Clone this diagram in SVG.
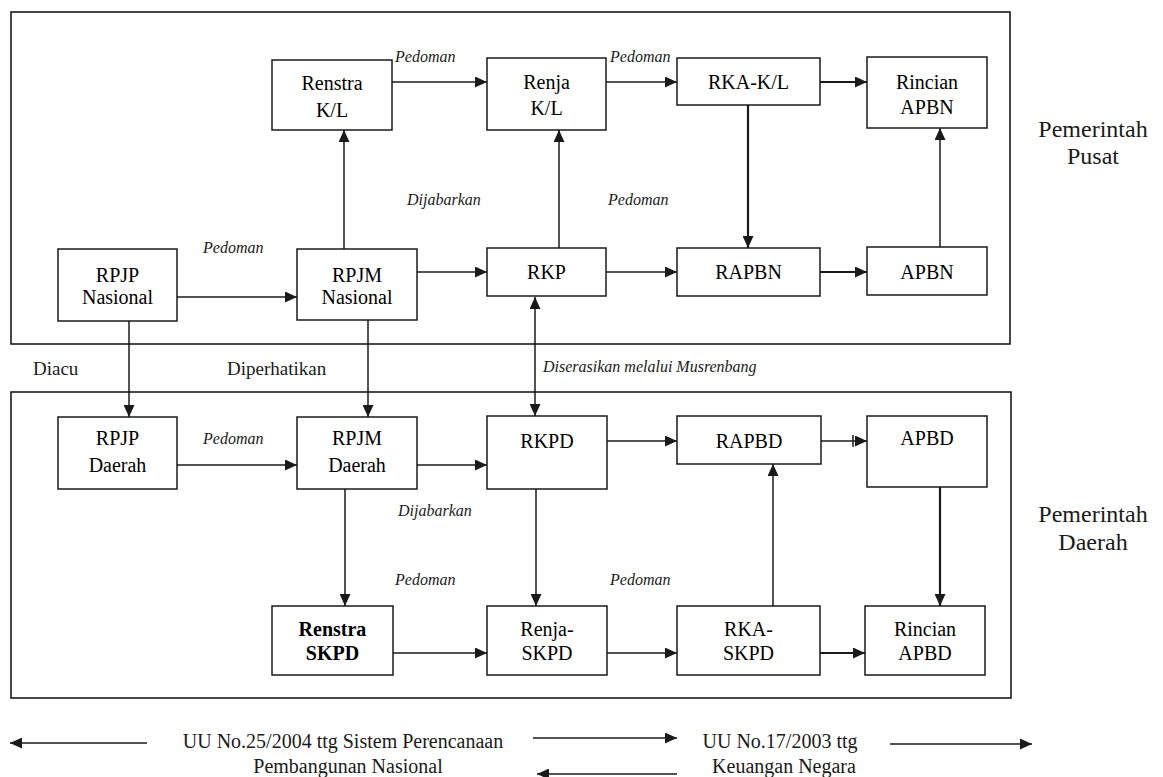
<svg xmlns="http://www.w3.org/2000/svg" width="1163" height="777" viewBox="0 0 1163 777">
  <defs>
    <marker id="head" markerUnits="userSpaceOnUse" markerWidth="12" markerHeight="11" refX="12" refY="5.5" orient="auto-start-reverse">
      <path d="M0,0 L12,5.5 L0,11 z" fill="#1a1a1a"/>
    </marker>
  </defs>
  <rect width="1163" height="777" fill="#ffffff"/>

  <!-- tier frames -->
  <g id="frame-pusat">
    <rect x="11" y="12" width="999" height="332" fill="none" stroke="#1a1a1a" stroke-width="1.6"/>
    <text x="1093" y="137" font-family="Liberation Serif" font-size="24" text-anchor="middle" fill="#1a1a1a">Pemerintah</text>
    <text x="1093" y="164" font-family="Liberation Serif" font-size="24" text-anchor="middle" fill="#1a1a1a">Pusat</text>
  </g>
  <g id="frame-daerah">
    <rect x="11" y="392" width="1000" height="306" fill="none" stroke="#1a1a1a" stroke-width="1.6"/>
    <text x="1093" y="522" font-family="Liberation Serif" font-size="24" text-anchor="middle" fill="#1a1a1a">Pemerintah</text>
    <text x="1093" y="550" font-family="Liberation Serif" font-size="24" text-anchor="middle" fill="#1a1a1a">Daerah</text>
  </g>

  <!-- connectors: every line ends in a filled arrowhead -->
  <g id="connectors" fill="none" stroke="#1a1a1a" stroke-width="1.5" marker-end="url(#head)">
    <line x1="177" y1="297" x2="297" y2="297"/>
    <line x1="344" y1="249" x2="344" y2="130"/>
    <line x1="417" y1="272" x2="487" y2="272"/>
    <line x1="392" y1="82" x2="487" y2="82"/>
    <line x1="606" y1="82" x2="677" y2="82"/>
    <line x1="820" y1="82" x2="867" y2="82" stroke-width="2.2"/>
    <line x1="559" y1="248" x2="559" y2="130"/>
    <line x1="748" y1="105" x2="748" y2="248" stroke-width="2.2"/>
    <line x1="606" y1="272" x2="677" y2="272"/>
    <line x1="820" y1="272" x2="867" y2="272" stroke-width="2.2"/>
    <line x1="940" y1="247" x2="940" y2="128"/>

    <line x1="129" y1="321" x2="129" y2="417"/>
    <line x1="368" y1="320" x2="368" y2="417"/>
    <line x1="535" y1="297" x2="535" y2="416" marker-start="url(#head)"/>

    <line x1="177" y1="465" x2="297" y2="465"/>
    <line x1="417" y1="465" x2="487" y2="465"/>
    <line x1="607" y1="441" x2="677" y2="441"/>
    <line x1="821" y1="441" x2="867" y2="441"/>
    <line x1="853" y1="435" x2="853" y2="447" marker-end="none"/>
    <line x1="345" y1="489" x2="345" y2="606"/>
    <line x1="536" y1="489" x2="536" y2="606"/>
    <line x1="393" y1="653" x2="487" y2="653"/>
    <line x1="607" y1="653" x2="677" y2="653"/>
    <line x1="773" y1="606" x2="773" y2="464"/>
    <line x1="820" y1="653" x2="865" y2="653" stroke-width="2.2"/>
    <line x1="940" y1="487" x2="940" y2="606" stroke-width="2.2"/>

    <!-- legal basis arrows -->
    <line x1="147" y1="743" x2="10" y2="743"/>
    <line x1="533" y1="738" x2="677" y2="738"/>
    <line x1="677" y1="774" x2="537" y2="774"/>
    <line x1="890" y1="744" x2="1032" y2="744"/>
  </g>

  <!-- relation labels -->
  <g id="labels" fill="#1a1a1a">
    <text x="203" y="253" font-family="Liberation Serif" font-size="16" font-style="italic">Pedoman</text>
    <text x="395" y="62" font-family="Liberation Serif" font-size="16" font-style="italic">Pedoman</text>
    <text x="610" y="62" font-family="Liberation Serif" font-size="16" font-style="italic">Pedoman</text>
    <text x="407" y="205" font-family="Liberation Serif" font-size="16" font-style="italic">Dijabarkan</text>
    <text x="608" y="205" font-family="Liberation Serif" font-size="16" font-style="italic">Pedoman</text>
    <text x="543" y="372" font-family="Liberation Serif" font-size="16" font-style="italic">Diserasikan melalui Musrenbang</text>
    <text x="203" y="444" font-family="Liberation Serif" font-size="16" font-style="italic">Pedoman</text>
    <text x="398" y="516" font-family="Liberation Serif" font-size="16" font-style="italic">Dijabarkan</text>
    <text x="395" y="585" font-family="Liberation Serif" font-size="16" font-style="italic">Pedoman</text>
    <text x="610" y="585" font-family="Liberation Serif" font-size="16" font-style="italic">Pedoman</text>
    <text x="33" y="375" font-family="Liberation Serif" font-size="19">Diacu</text>
    <text x="227" y="375" font-family="Liberation Serif" font-size="19">Diperhatikan</text>
    <text x="343" y="748" font-family="Liberation Serif" font-size="20" text-anchor="middle">UU No.25/2004 ttg Sistem Perencanaan</text>
    <text x="348" y="773" font-family="Liberation Serif" font-size="20" text-anchor="middle">Pembangunan Nasional</text>
    <text x="780" y="748" font-family="Liberation Serif" font-size="20" text-anchor="middle">UU No.17/2003 ttg</text>
    <text x="784" y="773" font-family="Liberation Serif" font-size="20" text-anchor="middle">Keuangan Negara</text>
  </g>

  <!-- central government nodes -->
  <g id="renstra-kl">
    <rect x="272" y="60" width="120" height="70" fill="#ffffff" stroke="#1a1a1a" stroke-width="1.5"/>
    <text x="332" y="90" font-family="Liberation Serif" font-size="20" text-anchor="middle">Renstra</text>
    <text x="332" y="117" font-family="Liberation Serif" font-size="20" text-anchor="middle">K/L</text>
  </g>
  <g id="renja-kl">
    <rect x="487" y="58" width="119" height="72" fill="#ffffff" stroke="#1a1a1a" stroke-width="1.5"/>
    <text x="546.5" y="89" font-family="Liberation Serif" font-size="20" text-anchor="middle">Renja</text>
    <text x="546.5" y="115" font-family="Liberation Serif" font-size="20" text-anchor="middle">K/L</text>
  </g>
  <g id="rka-kl">
    <rect x="677" y="58" width="143" height="47" fill="#ffffff" stroke="#1a1a1a" stroke-width="1.5"/>
    <text x="748.5" y="89" font-family="Liberation Serif" font-size="20" text-anchor="middle">RKA-K/L</text>
  </g>
  <g id="rincian-apbn">
    <rect x="867" y="57" width="120" height="71" fill="#ffffff" stroke="#1a1a1a" stroke-width="1.5"/>
    <text x="927" y="89" font-family="Liberation Serif" font-size="20" text-anchor="middle">Rincian</text>
    <text x="927" y="114" font-family="Liberation Serif" font-size="20" text-anchor="middle">APBN</text>
  </g>
  <g id="rpjp-nasional">
    <rect x="58" y="249" width="119" height="72" fill="#ffffff" stroke="#1a1a1a" stroke-width="1.5"/>
    <text x="117.5" y="282" font-family="Liberation Serif" font-size="20" text-anchor="middle">RPJP</text>
    <text x="117.5" y="304" font-family="Liberation Serif" font-size="20" text-anchor="middle">Nasional</text>
  </g>
  <g id="rpjm-nasional">
    <rect x="297" y="249" width="120" height="71" fill="#ffffff" stroke="#1a1a1a" stroke-width="1.5"/>
    <text x="357" y="282" font-family="Liberation Serif" font-size="20" text-anchor="middle">RPJM</text>
    <text x="357" y="304" font-family="Liberation Serif" font-size="20" text-anchor="middle">Nasional</text>
  </g>
  <g id="rkp">
    <rect x="487" y="248" width="119" height="48" fill="#ffffff" stroke="#1a1a1a" stroke-width="1.5"/>
    <text x="546.5" y="279" font-family="Liberation Serif" font-size="20" text-anchor="middle">RKP</text>
  </g>
  <g id="rapbn">
    <rect x="677" y="248" width="143" height="48" fill="#ffffff" stroke="#1a1a1a" stroke-width="1.5"/>
    <text x="748.5" y="279" font-family="Liberation Serif" font-size="20" text-anchor="middle">RAPBN</text>
  </g>
  <g id="apbn">
    <rect x="867" y="247" width="120" height="48" fill="#ffffff" stroke="#1a1a1a" stroke-width="1.5"/>
    <text x="927" y="279" font-family="Liberation Serif" font-size="20" text-anchor="middle">APBN</text>
  </g>

  <!-- regional government nodes -->
  <g id="rpjp-daerah">
    <rect x="58" y="417" width="119" height="72" fill="#ffffff" stroke="#1a1a1a" stroke-width="1.5"/>
    <text x="117.5" y="445" font-family="Liberation Serif" font-size="20" text-anchor="middle">RPJP</text>
    <text x="117.5" y="472" font-family="Liberation Serif" font-size="20" text-anchor="middle">Daerah</text>
  </g>
  <g id="rpjm-daerah">
    <rect x="297" y="417" width="120" height="72" fill="#ffffff" stroke="#1a1a1a" stroke-width="1.5"/>
    <text x="357" y="445" font-family="Liberation Serif" font-size="20" text-anchor="middle">RPJM</text>
    <text x="357" y="472" font-family="Liberation Serif" font-size="20" text-anchor="middle">Daerah</text>
  </g>
  <g id="rkpd">
    <rect x="487" y="416" width="120" height="73" fill="#ffffff" stroke="#1a1a1a" stroke-width="1.5"/>
    <text x="547" y="448" font-family="Liberation Serif" font-size="20" text-anchor="middle">RKPD</text>
  </g>
  <g id="rapbd">
    <rect x="677" y="416" width="144" height="48" fill="#ffffff" stroke="#1a1a1a" stroke-width="1.5"/>
    <text x="749" y="448" font-family="Liberation Serif" font-size="20" text-anchor="middle">RAPBD</text>
  </g>
  <g id="apbd">
    <rect x="867" y="416" width="120" height="71" fill="#ffffff" stroke="#1a1a1a" stroke-width="1.5"/>
    <text x="927" y="445" font-family="Liberation Serif" font-size="20" text-anchor="middle">APBD</text>
  </g>
  <g id="renstra-skpd">
    <rect x="272" y="606" width="121" height="69" fill="#ffffff" stroke="#1a1a1a" stroke-width="1.5"/>
    <text x="332.5" y="636" font-family="Liberation Serif" font-size="20" font-weight="bold" text-anchor="middle">Renstra</text>
    <text x="332.5" y="660" font-family="Liberation Serif" font-size="20" font-weight="bold" text-anchor="middle">SKPD</text>
  </g>
  <g id="renja-skpd">
    <rect x="487" y="606" width="120" height="69" fill="#ffffff" stroke="#1a1a1a" stroke-width="1.5"/>
    <text x="547" y="636" font-family="Liberation Serif" font-size="20" text-anchor="middle">Renja-</text>
    <text x="547" y="660" font-family="Liberation Serif" font-size="20" text-anchor="middle">SKPD</text>
  </g>
  <g id="rka-skpd">
    <rect x="677" y="606" width="143" height="69" fill="#ffffff" stroke="#1a1a1a" stroke-width="1.5"/>
    <text x="748.5" y="636" font-family="Liberation Serif" font-size="20" text-anchor="middle">RKA-</text>
    <text x="748.5" y="660" font-family="Liberation Serif" font-size="20" text-anchor="middle">SKPD</text>
  </g>
  <g id="rincian-apbd">
    <rect x="865" y="606" width="120" height="69" fill="#ffffff" stroke="#1a1a1a" stroke-width="1.5"/>
    <text x="925" y="636" font-family="Liberation Serif" font-size="20" text-anchor="middle">Rincian</text>
    <text x="925" y="660" font-family="Liberation Serif" font-size="20" text-anchor="middle">APBD</text>
  </g>
</svg>
